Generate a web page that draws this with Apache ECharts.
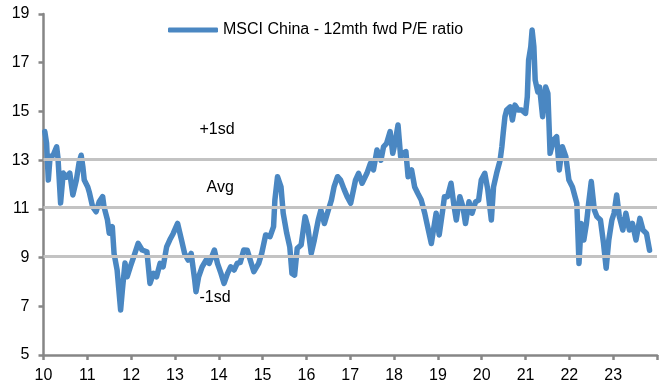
<!DOCTYPE html>
<html>
<head>
<meta charset="utf-8">
<script src="https://cdn.jsdelivr.net/npm/echarts@6/dist/echarts.min.js"></script>
<style>
  html, body { margin: 0; padding: 0; background: #fff; }
  #main { width: 660px; height: 392px; }
</style>
</head>
<body>
<div id="main"></div>
<script>
// MSCI China 12m fwd P/E (x = year, 10 = 2010)
const years = [
  10.03, 10.07, 10.11, 10.15, 10.22, 10.30, 10.33, 10.39, 10.45, 10.52, 10.60, 10.67, 10.75, 10.81, 10.86, 10.90, 10.93,
  11.01, 11.05, 11.12, 11.20, 11.27, 11.35, 11.38, 11.46, 11.50, 11.57, 11.61, 11.65, 11.68, 11.76, 11.80, 11.86, 11.91, 11.98,
  12.06, 12.16, 12.25, 12.36, 12.43, 12.51, 12.58, 12.66, 12.73, 12.81, 12.88, 12.96,
  13.06, 13.15, 13.22, 13.30, 13.37, 13.45, 13.48, 13.54, 13.62, 13.71, 13.78, 13.90, 13.97,
  14.05, 14.12, 14.20, 14.27, 14.35, 14.42, 14.49, 14.57, 14.65, 14.68, 14.80, 14.91, 14.98,
  15.07, 15.17, 15.25, 15.28, 15.34, 15.42, 15.47, 15.55, 15.62, 15.67, 15.73, 15.79, 15.88, 15.97,
  16.03, 16.11, 16.18, 16.27, 16.33, 16.41, 16.50, 16.57, 16.63, 16.71, 16.78, 16.86, 16.93,
  17.01, 17.12, 17.19, 17.27, 17.38, 17.46, 17.53, 17.61, 17.70, 17.76, 17.83, 17.91, 17.97,
  18.02, 18.09, 18.15, 18.21, 18.27, 18.32, 18.40, 18.47, 18.54, 18.62, 18.70, 18.75, 18.85, 18.96,
  19.03, 19.11, 19.15, 19.22, 19.30, 19.37, 19.42, 19.50, 19.57, 19.63, 19.71, 19.78, 19.86, 19.93, 19.99,
  20.07, 20.14, 20.22, 20.27, 20.34, 20.42, 20.46, 20.49, 20.53, 20.57, 20.65, 20.70, 20.76, 20.83, 20.91,
  21.00, 21.04, 21.07, 21.12, 21.15, 21.19, 21.22, 21.28, 21.32, 21.39, 21.46, 21.51, 21.56, 21.64, 21.71, 21.77, 21.84, 21.92, 21.99,
  22.07, 22.17, 22.22, 22.27, 22.33, 22.39, 22.44, 22.50, 22.57, 22.63, 22.71, 22.78, 22.84, 22.90, 22.97,
  23.02, 23.08, 23.14, 23.22, 23.29, 23.37, 23.44, 23.52, 23.61, 23.68, 23.76, 23.83
];
const peRatio = [
  14.17, 13.7, 12.18, 13.14, 13.2, 13.55, 13.1, 11.24, 12.47, 12.3, 12.47, 11.57, 12.18, 12.88, 13.2, 12.7, 12.18,
  11.9, 11.65, 11.09, 10.88, 11.29, 11.5, 11.09, 10.54, 10.0, 10.27, 9.17, 8.78, 8.49, 6.85, 7.67, 8.78, 8.21, 8.62,
  9.04, 9.58, 9.31, 9.24, 7.94, 8.35, 8.21, 8.76, 8.62, 9.44, 9.72, 9.99,
  10.4, 9.72, 9.17, 8.9, 9.17, 8.08, 7.6, 8.21, 8.62, 8.9, 8.76, 9.31, 8.76,
  8.35, 7.94, 8.35, 8.62, 8.49, 8.76, 8.8, 9.31, 9.3, 9.38, 8.42, 8.76, 9.17,
  9.93, 9.86, 10.27, 11.36, 12.32, 11.9, 10.82, 10.0, 9.44, 8.35, 8.28, 9.38, 9.52, 10.68,
  10.27, 9.17, 9.72, 10.54, 10.95, 10.4, 10.95, 11.36, 11.9, 12.32, 12.18, 11.8, 11.5,
  11.23, 12.18, 12.46, 12.05, 12.46, 12.87, 12.6, 13.42, 13.0, 13.55, 13.69, 14.17, 13.28,
  13.69, 14.44, 13.14, 13.28, 13.35, 12.32, 12.6, 11.9, 11.64, 11.36, 10.82, 10.4, 9.58, 10.82,
  9.93, 10.95, 11.5, 11.5, 12.05, 11.09, 10.54, 11.5, 11.09, 10.4, 11.29, 10.82, 11.29, 11.36, 12.18,
  12.46, 11.77, 10.54, 11.9, 12.46, 13.0, 13.55, 14.1, 14.78, 15.06, 15.19, 14.65, 15.26, 15.06, 15.06,
  14.92, 15.6, 17.1, 17.66, 18.34, 17.66, 16.29, 15.8, 16.0, 14.78, 16.0, 15.74, 13.28, 13.83, 13.96, 12.6, 13.55, 13.14, 12.18,
  11.9, 11.23, 8.76, 10.4, 9.72, 10.4, 11.23, 12.12, 10.95, 10.68, 10.54, 9.58, 8.56, 9.72, 10.54,
  10.82, 11.57, 10.68, 10.13, 10.82, 10.13, 10.4, 9.72, 10.61, 10.13, 9.99, 9.3
];
const bandLevels = [13.05, 11.05, 9.05];
const bandNames = ['+1sd', 'Avg', '-1sd'];
const seriesName = 'MSCI China - 12mth fwd P/E ratio';

const font = "'Liberation Sans', Arial, sans-serif";
const chart = echarts.init(document.getElementById('main'), null, {renderer: 'canvas'});

const labelPlace = [
  {position: 'insideStartTop', distance: [156, 21]},
  {position: 'insideStartTop', distance: [163, 12]},
  {position: 'insideStartBottom', distance: [156, 33]}
];

const option = {
  animation: false,
  grid: {left: 43.5, right: -6, top: 14, bottom: 37},
  legend: {
    data: [seriesName],
    left: 168,
    top: 22,
    padding: 0,
    icon: 'roundRect',
    itemWidth: 50,
    itemHeight: 5,
    textStyle: {fontFamily: font, fontSize: 16, color: '#000'}
  },
  xAxis: {
    type: 'value',
    min: 10,
    max: 24,
    interval: 1,
    axisLine: {lineStyle: {color: '#868686', width: 2.5}},
    axisTick: {show: true, length: 5, lineStyle: {color: '#868686', width: 2.5}},
    axisLabel: {
      fontFamily: font, fontSize: 16, color: '#000', margin: 13,
      formatter: v => (v >= 24 ? '' : String(v))
    },
    splitLine: {show: false}
  },
  yAxis: {
    type: 'value',
    min: 5,
    max: 19,
    interval: 2,
    axisLine: {show: true, lineStyle: {color: '#868686', width: 2.5}},
    axisTick: {show: true, length: 5, lineStyle: {color: '#868686', width: 2.5}},
    axisLabel: {fontFamily: font, fontSize: 16, color: '#000', margin: 14},
    splitLine: {show: false}
  },
  series: [{
    name: seriesName,
    type: 'line',
    data: years.map((y, i) => [y, peRatio[i]]),
    showSymbol: false,
    symbol: 'none',
    lineStyle: {color: '#4a87c2', width: 5.5, join: 'round', cap: 'round'},
    itemStyle: {color: '#4a87c2'},
    z: 3,
    markLine: {
      silent: true,
      symbol: 'none',
      animation: false,
      lineStyle: {color: '#c3c3c3', width: 3, type: 'solid'},
      data: bandLevels.map((lv, i) => ({
        yAxis: lv,
        label: {
          show: true,
          formatter: bandNames[i],
          position: labelPlace[i].position,
          distance: labelPlace[i].distance,
          fontFamily: font,
          fontSize: 16,
          color: '#000'
        }
      }))
    }
  }]
};

chart.setOption(option);
</script>
</body>
</html>
